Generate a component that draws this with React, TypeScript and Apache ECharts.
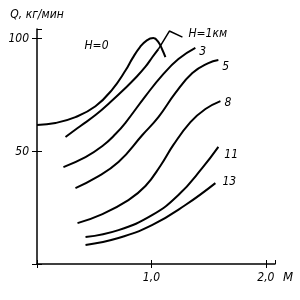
import React, { useEffect, useRef } from "react";
import * as echarts from "echarts";

// Q, kg/min vs Mach number M for different altitudes H
const h0: [number, number][] = [
  [0.0, 61.5], [0.162, 62.4], [0.336, 65.0], [0.511, 69.8], [0.659, 77.3],
  [0.773, 85.6], [0.834, 91.0], [0.9, 96.0], [0.96, 99.0], [1.017, 100.0],
  [1.061, 98.2], [1.096, 94.7], [1.122, 91.6],
];
const h1: [number, number][] = [
  [0.249, 56.2], [0.38, 61.1], [0.511, 65.9], [0.642, 71.7], [0.773, 77.9],
  [0.86, 82.3], [0.948, 87.3], [1.009, 91.6], [1.061, 95.1],
];
const h1Leader: [number, number][] = [[1.061, 95.1], [1.157, 103.1], [1.271, 100.4]];
const h3: [number, number][] = [
  [0.231, 42.9], [0.424, 47.3], [0.572, 52.2], [0.686, 57.5], [0.773, 62.5],
  [0.948, 74.3], [1.096, 83.6], [1.236, 90.7], [1.384, 95.6],
];
const h5: [number, number][] = [
  [0.336, 33.6], [0.511, 38.1], [0.712, 45.1], [0.921, 57.1], [1.061, 65.0],
  [1.21, 75.7], [1.358, 84.5], [1.498, 88.9], [1.585, 90.3],
];
const h8: [number, number][] = [
  [0.354, 18.1], [0.572, 22.1], [0.799, 28.3], [0.948, 34.5], [1.079, 43.5],
  [1.192, 52.7], [1.341, 62.8], [1.472, 68.6], [1.603, 72.1],
];
const h11: [number, number][] = [
  [0.424, 11.9], [0.712, 15.0], [1.009, 21.7], [1.236, 30.5], [1.445, 42.5], [1.585, 51.8],
];
const h13: [number, number][] = [
  [0.424, 8.4], [0.712, 11.5], [1.009, 17.3], [1.297, 26.1], [1.559, 35.8],
];

const curveLabels = ["H=1км", "3", "5", "8", "11", "13"];
const h0Label = { text: "H=0", at: [0.52, 96.9] };
const xTicks = [0, 1, 2];
const yTicks = [0, 50, 100];

const FONT = "'Liberation Sans Narrow', 'DejaVu Sans Condensed', sans-serif";

export default function App() {
  const ref = useRef<HTMLDivElement>(null);
  useEffect(() => {
    if (!ref.current) return;
    const chart = echarts.init(ref.current, null, { renderer: "svg" });
    const txt = { fontFamily: FONT, fontStyle: "italic" as const, fontSize: 12, color: "#000" };
    const lineSeries = (
      data: [number, number][],
      label: string | null,
      offset: number[],
      smooth: number = 0.45
    ) => ({
      type: "line",
      data,
      smooth,
      symbol: "none",
      lineStyle: { color: "#000", width: 2 },
      xAxisIndex: 0,
      yAxisIndex: 0,
      endLabel: label
        ? { show: true, formatter: label, offset, ...txt, distance: 4 }
        : { show: false },
    });
    chart.setOption({
      animation: false,
      grid: { left: 37, right: 25, top: 29, bottom: 36 },
      xAxis: [
        {
          type: "value", min: xTicks[0], max: 2.08, interval: 1,
          axisLine: { lineStyle: { color: "#000", width: 1.5 } },
          axisTick: { show: true, length: 4, lineStyle: { color: "#000" } },
          splitLine: { show: false },
          axisLabel: {
            ...txt, margin: 7,
            formatter: (v: number) => (v === 0 ? "" : v.toFixed(1).replace(".", ",")),
          },
          name: "M", nameLocation: "end", nameGap: 8,
          nameTextStyle: { ...txt, fontSize: 13, verticalAlign: "top", padding: [6, 0, 0, 0] },
        },
        {
          type: "value", min: xTicks[0], max: 2.08, interval: 1, position: "bottom",
          axisLine: { show: false },
          axisTick: { show: true, inside: true, length: 4, lineStyle: { color: "#000" } },
          splitLine: { show: false }, axisLabel: { show: false },
        },
      ],
      yAxis: [
        {
          type: "value", min: yTicks[0], max: 104, interval: 50,
          axisLine: { show: true, lineStyle: { color: "#000", width: 1.5 } },
          axisTick: { show: true, length: 5, lineStyle: { color: "#000" } },
          splitLine: { show: false },
          axisLabel: { ...txt, margin: 8, formatter: (v: number) => (v === 0 ? "" : String(v)) },
          name: "Q, кг/мин", nameLocation: "end", nameGap: 9,
          nameTextStyle: { ...txt, align: "center" },
        },
        {
          type: "value", min: yTicks[0], max: 104, interval: 50, position: "left",
          axisLine: { show: false },
          axisTick: { show: true, inside: true, length: 5, lineStyle: { color: "#000" } },
          splitLine: { show: false }, axisLabel: { show: false },
        },
      ],
      series: [
        {
          ...lineSeries(h0, null, [0, 0]),
          markPoint: {
            symbol: "circle", symbolSize: 0,
            data: [{ coord: h0Label.at, value: h0Label.text }],
            label: { show: true, position: "inside", formatter: h0Label.text, ...txt },
          },
        },
        lineSeries(h1, null, [0, 0]),
        {
          ...lineSeries(h1Leader, curveLabels[0], [2, -4], 0),
          lineStyle: { color: "#000", width: 1.5 },
        },
        lineSeries(h3, curveLabels[1], [0, 3]),
        lineSeries(h5, curveLabels[2], [0, 6]),
        lineSeries(h8, curveLabels[3], [0, 1]),
        lineSeries(h11, curveLabels[4], [2, 7]),
        lineSeries(h13, curveLabels[5], [3, -2]),
      ],
    });
    return () => chart.dispose();
  }, []);
  return (
    <div
      ref={ref}
      style={{ position: "fixed", left: 0, top: 0, width: 300, height: 300 }}
    />
  );
}
